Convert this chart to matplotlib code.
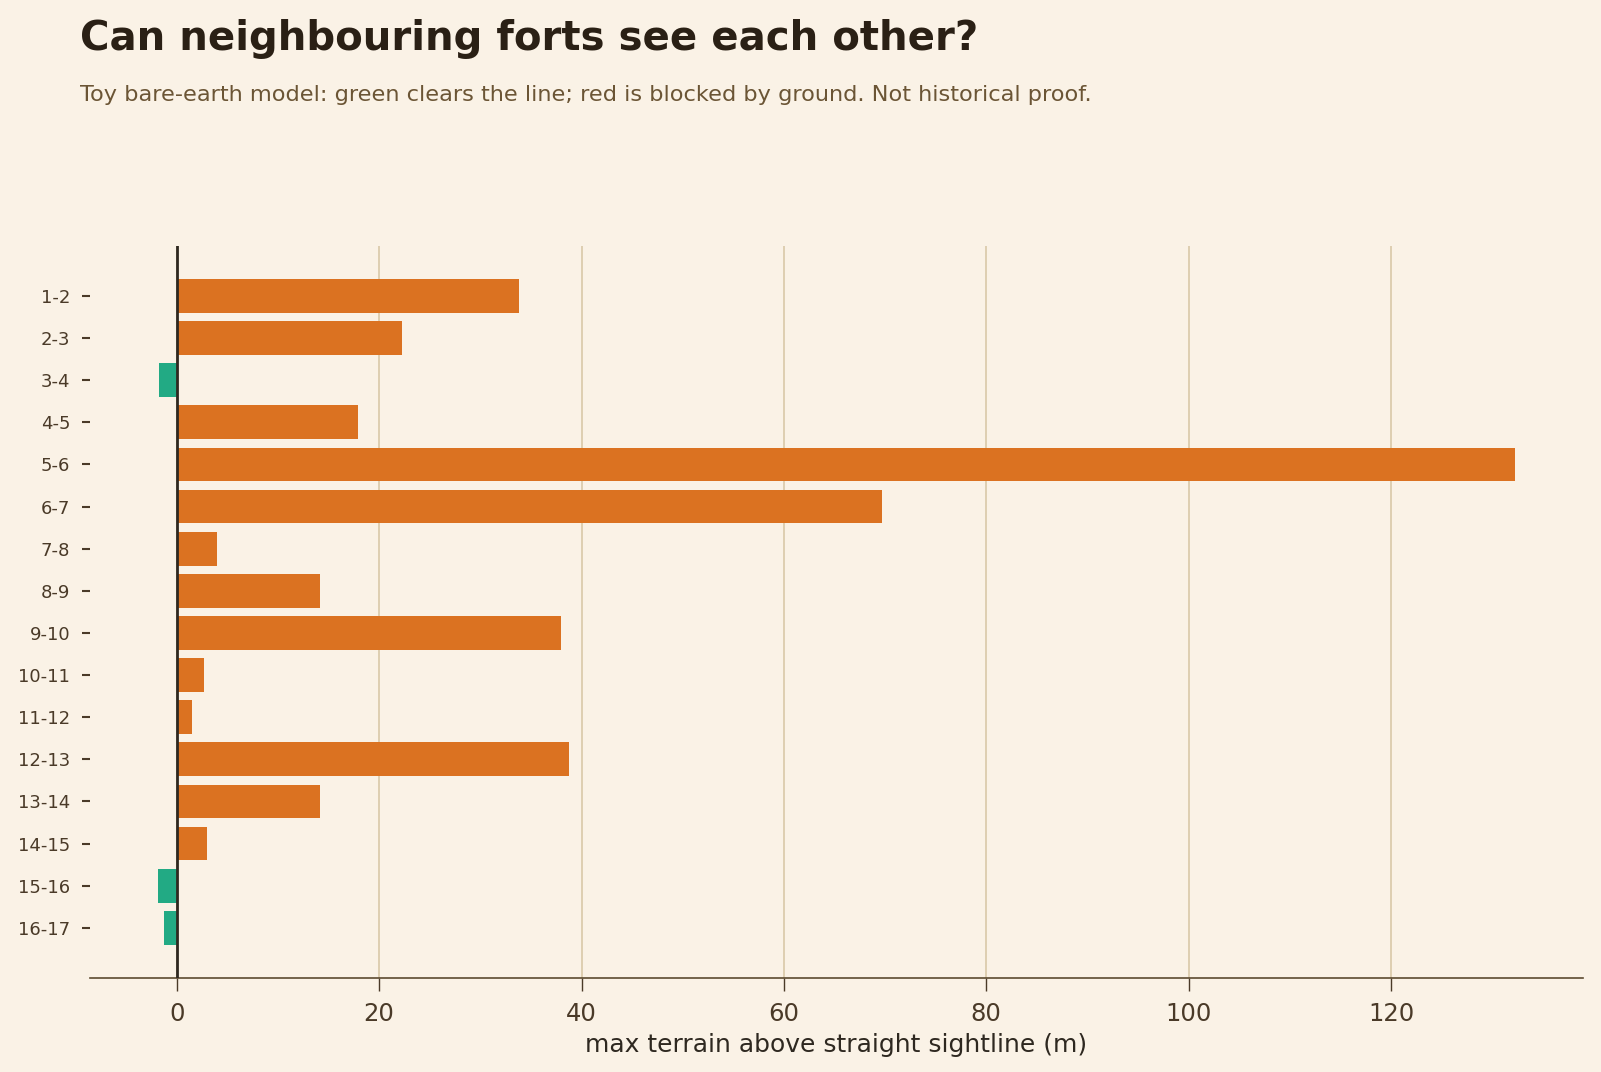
import matplotlib.pyplot as plt
import numpy as np

pairs = ["1-2", "2-3", "3-4", "4-5", "5-6", "6-7", "7-8", "8-9", "9-10",
         "10-11", "11-12", "12-13", "13-14", "14-15", "15-16", "16-17"]
clearance = [33.8, 22.3, -1.8, 17.9, 132.3, 69.7, 4.0, 14.2, 38.0,
             2.7, 1.5, 38.8, 14.2, 3.0, -1.9, -1.3]

bg = "#faf2e6"
blocked_col = "#db7221"
clear_col = "#22aa84"

fig = plt.figure(figsize=(16.01, 10.72), dpi=100, facecolor=bg)
ax = fig.add_axes([0.056, 0.0877, 0.933, 0.683], facecolor=bg)

y = np.arange(len(pairs))
colors = [clear_col if v < 0 else blocked_col for v in clearance]
ax.barh(y, clearance, height=0.8, color=colors, zorder=2)
ax.axvline(0, color="#2e2820", lw=2.0, zorder=3)

ax.set_yticks(y)
ax.set_yticklabels(pairs)
ax.invert_yaxis()

ax.grid(axis="x", color="#d9c9a8", lw=1.2, zorder=0)
ax.grid(axis="y", visible=False)
for s in ["top", "right", "left"]:
    ax.spines[s].set_visible(False)
ax.spines["bottom"].set_color("#5c4a30")
ax.spines["bottom"].set_linewidth(1.2)

ax.tick_params(axis="y", labelsize=13, colors="#4a3a28", length=6, width=1.5, pad=8)
ax.tick_params(axis="x", labelsize=17.5, colors="#4a3a28", length=9, width=1.0, pad=8)
ax.set_xlabel("max terrain above straight sightline (m)", fontsize=18,
              color="#2e2820", labelpad=5)

fig.text(0.0497, 0.964, "Can neighbouring forts see each other?", fontsize=29,
         fontweight="bold", color="#2a2015", va="center", ha="left")
fig.text(0.0497, 0.911, "Toy bare-earth model: green clears the line; red is blocked by ground. Not historical proof.",
         fontsize=16.2, color="#6b5535", va="center", ha="left")

fig.savefig("out.png", dpi=100, facecolor=bg)
